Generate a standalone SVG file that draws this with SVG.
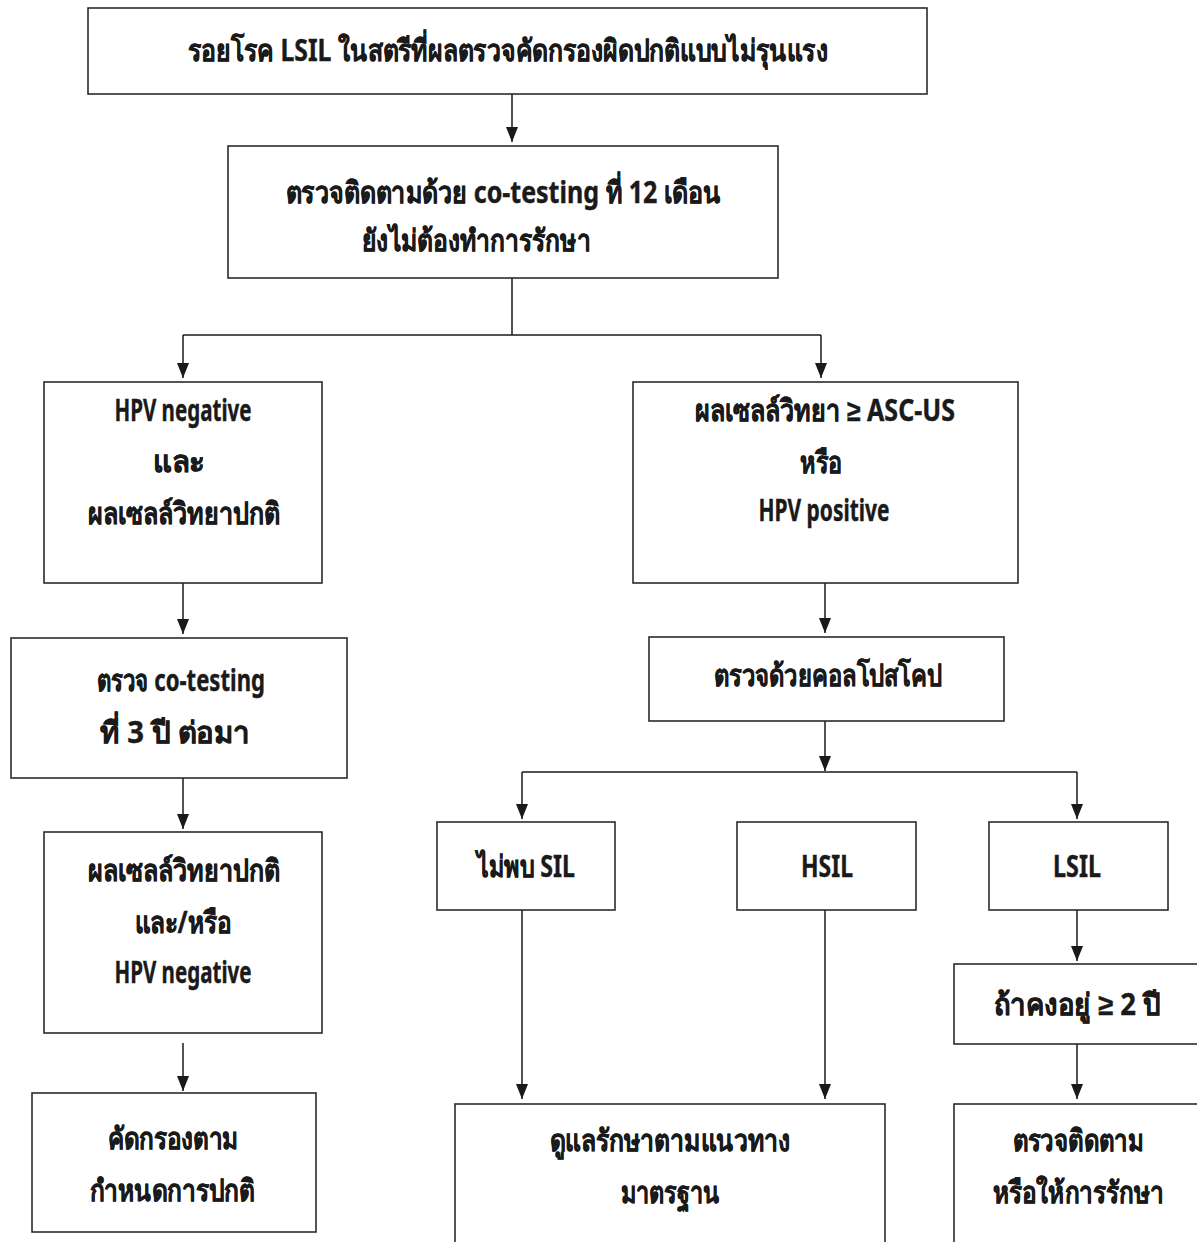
<svg xmlns="http://www.w3.org/2000/svg" width="1197" height="1242" viewBox="0 0 1197 1242">
  <style>
    .box { fill: #ffffff; stroke: #2b2b2b; stroke-width: 1.6; }
    .ln { fill: none; stroke: #1a1a1a; stroke-width: 1.5; }
    .arr { marker-end: url(#head); }
    .t { font-family: 'Noto Sans', 'Liberation Sans', sans-serif; font-weight: bold; font-size: 30px; fill: #1a1a1a; stroke: #1a1a1a; stroke-width: 0.4; text-anchor: middle; }
  </style>
  <defs>
    <!-- filled triangular arrowhead, tip at the end of the line -->
    <marker id="head" markerUnits="userSpaceOnUse" markerWidth="15" markerHeight="12" refX="15" refY="6" orient="auto" viewBox="0 0 15 12">
      <path d="M0,0 L15,6 L0,12 z" fill="#1a1a1a"/>
    </marker>
  </defs>
  <rect width="1197" height="1242" fill="#ffffff"/>

  <g id="connectors">
    <path class="ln arr" d="M512,94 V142"/>
    <path class="ln" d="M512,278 V335 M183,335 H821"/>
    <path class="ln arr" d="M183,335 V378"/>
    <path class="ln arr" d="M821,335 V378"/>
    <path class="ln arr" d="M183,583 V634"/>
    <path class="ln arr" d="M183,778 V829"/>
    <path class="ln arr" d="M183,1043 V1091"/>
    <path class="ln arr" d="M825,583 V633"/>
    <path class="ln arr" d="M825,721 V771"/>
    <path class="ln" d="M522,772 H1077"/>
    <path class="ln arr" d="M522,772 V819"/>
    <path class="ln arr" d="M1077,772 V819"/>
    <path class="ln arr" d="M522,910 V1099"/>
    <path class="ln arr" d="M825,910 V1099"/>
    <path class="ln arr" d="M1077,910 V961"/>
    <path class="ln arr" d="M1077,1044 V1099"/>
  </g>

  <g id="n1">
    <rect class="box" x="88" y="8" width="839" height="86"/>
    <text class="t" x="508" y="61" textLength="640" lengthAdjust="spacingAndGlyphs">รอยโรค LSIL ในสตรีที่ผลตรวจคัดกรองผิดปกติแบบไม่รุนแรง</text>
  </g>
  <g id="n2">
    <rect class="box" x="228" y="146" width="550" height="132"/>
    <text class="t" x="503" y="203" textLength="435" lengthAdjust="spacingAndGlyphs">ตรวจติดตามด้วย co-testing ที่ 12 เดือน</text>
    <text class="t" x="476" y="251" textLength="229" lengthAdjust="spacingAndGlyphs">ยังไม่ต้องทำการรักษา</text>
  </g>
  <g id="n3">
    <rect class="box" x="44" y="382" width="278" height="201"/>
    <text class="t" x="183" y="421" textLength="137" lengthAdjust="spacingAndGlyphs">HPV  negative</text>
    <text class="t" x="179" y="472" textLength="52" lengthAdjust="spacingAndGlyphs">และ</text>
    <text class="t" x="184" y="524" textLength="192" lengthAdjust="spacingAndGlyphs">ผลเซลล์วิทยาปกติ</text>
  </g>
  <g id="n4">
    <rect class="box" x="633" y="382" width="385" height="201"/>
    <text class="t" x="825" y="421" textLength="260" lengthAdjust="spacingAndGlyphs">ผลเซลล์วิทยา ≥ ASC-US</text>
    <text class="t" x="821" y="473" textLength="42" lengthAdjust="spacingAndGlyphs">หรือ</text>
    <text class="t" x="824" y="521" textLength="131" lengthAdjust="spacingAndGlyphs">HPV  positive</text>
  </g>
  <g id="n5">
    <rect class="box" x="11" y="638" width="336" height="140"/>
    <text class="t" x="181" y="691" textLength="168" lengthAdjust="spacingAndGlyphs">ตรวจ co-testing</text>
    <text class="t" x="175" y="743" textLength="150" lengthAdjust="spacingAndGlyphs">ที่  3  ปี  ต่อมา</text>
  </g>
  <g id="n6">
    <rect class="box" x="44" y="832" width="278" height="201"/>
    <text class="t" x="184" y="881" textLength="192" lengthAdjust="spacingAndGlyphs">ผลเซลล์วิทยาปกติ</text>
    <text class="t" x="183" y="933" textLength="97" lengthAdjust="spacingAndGlyphs">และ/หรือ</text>
    <text class="t" x="183" y="983" textLength="137" lengthAdjust="spacingAndGlyphs">HPV  negative</text>
  </g>
  <g id="n7">
    <rect class="box" x="32" y="1093" width="284" height="139"/>
    <text class="t" x="173" y="1149" textLength="131" lengthAdjust="spacingAndGlyphs">คัดกรองตาม</text>
    <text class="t" x="172" y="1201" textLength="165" lengthAdjust="spacingAndGlyphs">กำหนดการปกติ</text>
  </g>
  <g id="n8">
    <rect class="box" x="649" y="637" width="355" height="84"/>
    <text class="t" x="828" y="686" textLength="228" lengthAdjust="spacingAndGlyphs">ตรวจด้วยคอลโปสโคป</text>
  </g>
  <g id="n9">
    <rect class="box" x="437" y="822" width="178" height="88"/>
    <text class="t" x="526" y="877" textLength="98" lengthAdjust="spacingAndGlyphs">ไม่พบ SIL</text>
  </g>
  <g id="n10">
    <rect class="box" x="737" y="822" width="179" height="88"/>
    <text class="t" x="827" y="877" textLength="52" lengthAdjust="spacingAndGlyphs">HSIL</text>
  </g>
  <g id="n11">
    <rect class="box" x="989" y="822" width="179" height="88"/>
    <text class="t" x="1077" y="877" textLength="48" lengthAdjust="spacingAndGlyphs">LSIL</text>
  </g>
  <g id="n12">
    <rect class="box" x="455" y="1104" width="430" height="150"/>
    <text class="t" x="670" y="1151" textLength="241" lengthAdjust="spacingAndGlyphs">ดูแลรักษาตามแนวทาง</text>
    <text class="t" x="670" y="1203" textLength="99" lengthAdjust="spacingAndGlyphs">มาตรฐาน</text>
  </g>
  <g id="n13">
    <rect class="box" x="954" y="964" width="260" height="80"/>
    <text class="t" x="1077" y="1015" textLength="167" lengthAdjust="spacingAndGlyphs">ถ้าคงอยู่ ≥  2 ปี</text>
  </g>
  <g id="n14">
    <rect class="box" x="954" y="1104" width="260" height="150"/>
    <text class="t" x="1078" y="1151" textLength="131" lengthAdjust="spacingAndGlyphs">ตรวจติดตาม</text>
    <text class="t" x="1078" y="1203" textLength="171" lengthAdjust="spacingAndGlyphs">หรือให้การรักษา</text>
  </g>
</svg>
